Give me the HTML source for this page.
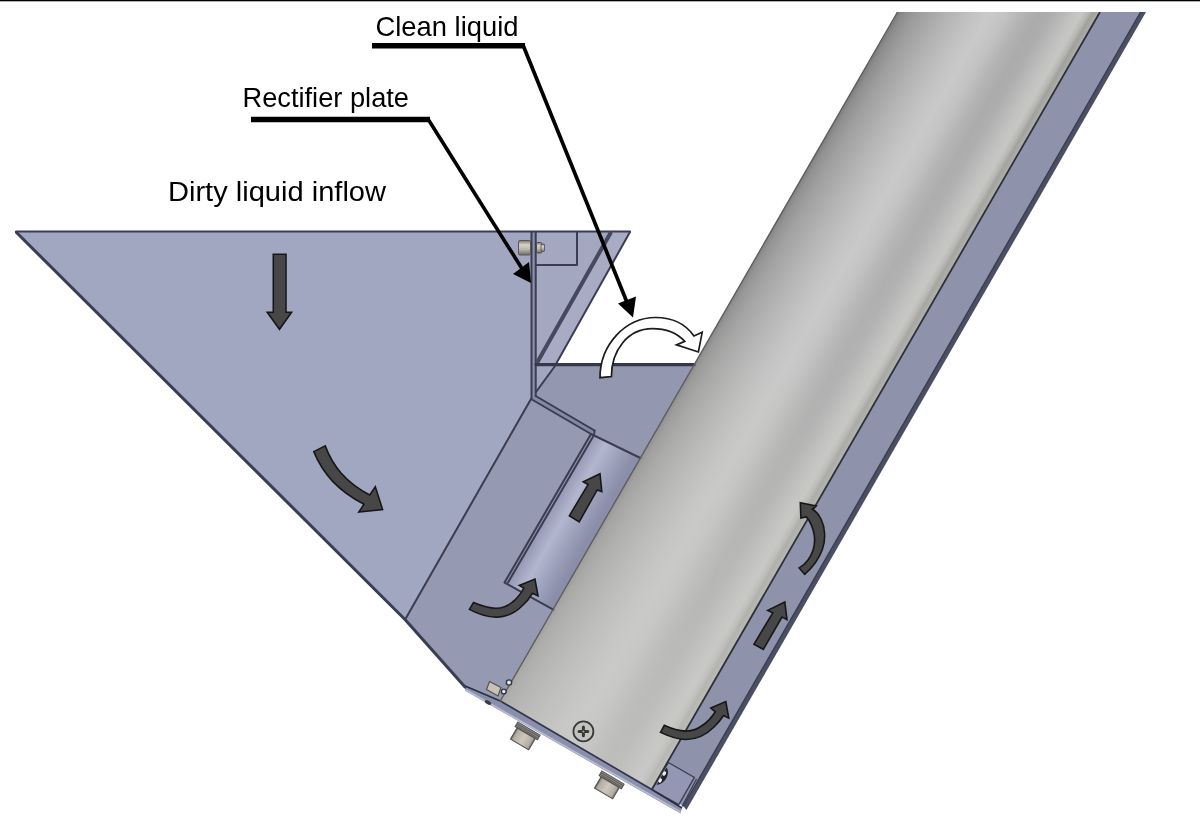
<!DOCTYPE html>
<html><head><meta charset="utf-8">
<style>
html,body{margin:0;padding:0;background:#fff;}
body{width:1200px;height:822px;overflow:hidden;font-family:"Liberation Sans",sans-serif;}
svg{display:block;}
text{font-family:"Liberation Sans",sans-serif;fill:#000;}
</style></head><body>
<svg width="1200" height="822" viewBox="0 0 1200 822">
<defs>
<linearGradient id="cyl" gradientUnits="userSpaceOnUse" x1="897.5" y1="12" x2="1049.5" y2="99.6">
<stop offset="0" stop-color="#787878"/>
<stop offset="0.03" stop-color="#8b8b8b"/>
<stop offset="0.10" stop-color="#9c9c9c"/>
<stop offset="0.25" stop-color="#b3b3b3"/>
<stop offset="0.38" stop-color="#c3c3c3"/>
<stop offset="0.46" stop-color="#c9c9c9"/>
<stop offset="0.54" stop-color="#c3c3c3"/>
<stop offset="0.63" stop-color="#b3b3b3"/>
<stop offset="0.70" stop-color="#ababab"/>
<stop offset="0.76" stop-color="#adadad"/>
<stop offset="0.82" stop-color="#b8b8b8"/>
<stop offset="0.88" stop-color="#c3c3c2"/>
<stop offset="0.915" stop-color="#c6c6c4"/>
<stop offset="0.945" stop-color="#b6b7b2"/>
<stop offset="0.965" stop-color="#a0a19c"/>
<stop offset="0.985" stop-color="#a8a9a4"/>
<stop offset="1" stop-color="#b0b0ac"/>
</linearGradient>
<linearGradient id="cyl2" gradientUnits="userSpaceOnUse" x1="998" y1="12" x2="576" y2="745">
<stop offset="0" stop-color="#cacac8" stop-opacity="0"/>
<stop offset="0.15" stop-color="#cacac8" stop-opacity="0.05"/>
<stop offset="0.45" stop-color="#cacac8" stop-opacity="0.18"/>
<stop offset="1" stop-color="#cacac8" stop-opacity="0.58"/>
</linearGradient>
<linearGradient id="chan" gradientUnits="userSpaceOnUse" x1="591" y1="434" x2="634" y2="458.5">
<stop offset="0" stop-color="#8e92ac"/>
<stop offset="0.12" stop-color="#9ca0ba"/>
<stop offset="0.36" stop-color="#b2b6ce"/>
<stop offset="0.72" stop-color="#9a9eb8"/>
<stop offset="1" stop-color="#8a8ea8"/>
</linearGradient>
<linearGradient id="bolt" x1="0" y1="0" x2="1" y2="0">
<stop offset="0" stop-color="#7f7b75"/>
<stop offset="0.12" stop-color="#b3aea5"/>
<stop offset="0.5" stop-color="#cdc6bc"/>
<stop offset="0.88" stop-color="#b3aea5"/>
<stop offset="1" stop-color="#7f7b75"/>
</linearGradient>
<linearGradient id="boltv" x1="0" y1="0" x2="0" y2="1">
<stop offset="0" stop-color="#7a7771"/>
<stop offset="0.3" stop-color="#d6d2ca"/>
<stop offset="0.6" stop-color="#bcb8af"/>
<stop offset="1" stop-color="#6f6c66"/>
</linearGradient>
<filter id="soft" x="-2%" y="-2%" width="104%" height="104%"><feGaussianBlur stdDeviation="0.65"/></filter>
<clipPath id="clipimg"><rect x="0" y="12" width="1200" height="810"/></clipPath>
</defs>
<rect width="1200" height="822" fill="#fff"/>
<rect x="0" y="0" width="1200" height="1.3" fill="#000"/>

<g clip-path="url(#clipimg)"><g filter="url(#soft)">
<polygon points="16,231 531,231 531,399 405.5,619" fill="#a2a7c1"/>
<polygon points="531,399 591,434 504.5,582.5 554.3,609 501.3,701 465,687 405.5,619" fill="#9599b1"/>
<polygon points="536,231 630,231 556,364 536,364" fill="#a3a7c0"/>
<polygon points="612,231 630,231 556,364 538,364" fill="#a8abc3"/>
<rect x="531" y="231" width="5" height="168" fill="#8d91ad"/>
<polygon points="536,366 693.4,366 640.4,458 591,434 534,401 536,392" fill="#9397af"/>
<polygon points="536,366 555,366 536,392" fill="#a2a7c1"/>
<polygon points="531,399 591,434 594.5,430.5 535.7,396" fill="#8388a3"/>
<polygon points="591,434 640.4,458 553.3,609 504.5,582.5" fill="url(#chan)"/>
<polygon points="1100,12 1140,12 683.3,806 651.8,789.5" fill="#8e92ab"/>
<polygon points="1140,12 1146,12 686.4,810 683.3,806" fill="#4c4f62"/>
<polygon points="464,685 500.3,701 651.8,789.5 682,808 680.5,813.5 465.5,691" fill="#8b8fac"/>
<polyline points="466,690 680.5,812" fill="none" stroke="#b9bdd3" stroke-width="1.6"/>
<polygon points="668.4,762.5 694.4,777.4 678.8,804.5 651.8,789.5" fill="#9397b3" stroke="#3a3d52" stroke-width="1.3"/>
<polyline points="696.5,779 682,806.5" fill="none" stroke="#3a3d52" stroke-width="1.2"/>
<polygon points="897.5,12 1100,12 651.8,789.5 500.3,701" fill="url(#cyl)"/>
<polygon points="897.5,12 1100,12 651.8,789.5 500.3,701" fill="url(#cyl2)"/>
<line x1="1100" y1="12" x2="651.8" y2="789.5" stroke="#2e3038" stroke-width="1.8"/>
<line x1="500.3" y1="701" x2="651.8" y2="789.5" stroke="#33364a" stroke-width="1.7"/>
<polyline points="464,685.5 500.3,701" fill="none" stroke="#2c2e3c" stroke-width="1.6"/>
<polyline points="651.8,789.5 682,808" fill="none" stroke="#2c2e3c" stroke-width="1.6"/>
<g fill="none" stroke="#3a3d52" stroke-width="2" stroke-linejoin="round" stroke-linecap="round">
<polyline points="16,231.5 630,231.5" stroke-width="2.2"/>
<polyline points="16.5,232.5 405,619.5 465,687" stroke-width="3"/>
<line x1="531" y1="399" x2="406" y2="618"/>
<line x1="531.5" y1="232" x2="531.5" y2="399"/>
<line x1="535.7" y1="232" x2="535.7" y2="396"/>
<polyline points="531,399 591,434 640.4,458"/>
<polyline points="535.7,396 594.5,430.5"/>
<polyline points="591,434 504.5,582.5 553.3,609.5"/>
<polyline points="594.5,430.5 594,435 508,582.5"/>
<polyline points="630,232 556,364"/>
<polyline points="610.5,233 537.5,362" stroke-width="4" stroke="#454860"/>
<polyline points="536,364.6 694,364.6" stroke-width="3.2" stroke="#34374a"/>
<polyline points="555,366 536,392"/>
<polyline points="536,265 577,265 577,232"/>
<line x1="897.5" y1="12" x2="500.3" y2="701" stroke="#5e5e60" stroke-width="1.4"/>
<line x1="1140.6" y1="12" x2="683.3" y2="806" stroke-width="1.4"/>
</g>
<g transform="translate(529,728.5) rotate(30.5)">
<rect x="-13" y="0" width="26" height="5.5" fill="#8b8882" stroke="#55534f" stroke-width="0.9"/>
<line x1="-13" y1="1.9" x2="13" y2="1.9" stroke="#5a5854" stroke-width="0.9"/>
<line x1="-13" y1="3.8" x2="13" y2="3.8" stroke="#5a5854" stroke-width="0.9"/>
<rect x="-10.5" y="5.5" width="21" height="13" fill="url(#bolt)" stroke="#55534f" stroke-width="1.2"/>
</g>
<g transform="translate(613,777.5) rotate(30.5)">
<rect x="-13" y="0" width="26" height="5.5" fill="#8b8882" stroke="#55534f" stroke-width="0.9"/>
<line x1="-13" y1="1.9" x2="13" y2="1.9" stroke="#5a5854" stroke-width="0.9"/>
<line x1="-13" y1="3.8" x2="13" y2="3.8" stroke="#5a5854" stroke-width="0.9"/>
<rect x="-10.5" y="5.5" width="21" height="13" fill="url(#bolt)" stroke="#55534f" stroke-width="1.2"/>
</g>
<g>
<rect x="518.5" y="240.5" width="12" height="14.5" rx="1.5" fill="url(#boltv)" stroke="#5a5853" stroke-width="1"/>
<rect x="536.5" y="242.5" width="5" height="10.5" rx="1" fill="url(#boltv)" stroke="#4a4a50" stroke-width="1"/>
<rect x="541" y="244" width="3.5" height="7.5" rx="1" fill="url(#boltv)" stroke="#4a4a50" stroke-width="0.8"/>
<polygon points="489.5,681.5 501,687.5 498,696 486.5,689.5" fill="#c6c2b7" stroke="#55534e" stroke-width="1.2"/>
<circle cx="509" cy="682.5" r="2.6" fill="#e8e8e8" stroke="#33343c" stroke-width="1.4"/>
<circle cx="503.8" cy="691.5" r="2.4" fill="#e8e8e8" stroke="#33343c" stroke-width="1.4"/>
<ellipse cx="488" cy="702.5" rx="3.5" ry="1.8" fill="#3a3b44" transform="rotate(30 488 702.5)"/>
<path d="M656.5,785 L666.5,767.5 Q669.5,771 666.5,778 Q663,784 656.5,785 Z" fill="#22232a"/>
<ellipse cx="664.3" cy="773.5" rx="1.6" ry="2.4" fill="#f2f2f2" transform="rotate(30 664.3 773.5)"/>
<ellipse cx="660.2" cy="780.5" rx="1.6" ry="2.2" fill="#f2f2f2" transform="rotate(30 660.2 780.5)"/>
<circle cx="583.4" cy="731.4" r="10" fill="#c2c2c0" stroke="#3a3a38" stroke-width="1.8"/>
<path d="M579,731.4h8.8M583.4,727v8.8" stroke="#38382f" stroke-width="3" stroke-linecap="round"/>
<circle cx="583.4" cy="731.4" r="1" fill="#aaa"/>
</g>
<g fill="#474747" stroke="#181818" stroke-width="1.6" stroke-linejoin="miter">
<polygon points="273.3,254.3 286,254.3 286,312.3 291.6,312.3 279.5,329.3 267.2,312.3 273.3,312.3"/>
<path d="M313.8,451.6 L325.2,445.9 C329,456 334,465 341.2,473.3 C349,482 359,489.5 369.7,495 L375.3,486.7 L382.6,509.5 L358.8,512.1 L364,504.3 C352,498 341,490 332.9,481.6 C324,472 318,462 313.8,451.6 Z"/>
<path d="M469.4,609.4 C477,613.5 487,617.1 496,617.1 C507,617.1 516,612 522,606 C526.5,602 530,597.5 532.4,593.3 L538,595.9 L535,579 L519.3,585.4 L523.8,588 C521,593.5 517,598.5 512.5,602 C507,606.5 501,608.3 496,608.3 C488,608.3 480.5,605.5 473.5,602.6 Z"/>
<polygon points="569.4,515.7 579.2,521.9 597.2,489.9 601.8,491.6 600,473.7 583.2,481.8 588,484.6"/>
<path d="M660.5,732.4 C668,736 677,739.5 686,739.5 C698,739.5 708,733 714,727 C718,723 721,719.5 723.5,715.5 L728.8,718.1 L725.8,701.6 L710.8,708 L715.3,711.8 C712,717 707.5,722 703,725 C697,729.5 691,731.2 686,731.1 C678,731 671,728.5 664.3,725.3 Z"/>
<polygon points="754,644.2 763.3,649.3 782,617 787,619.6 784.8,602 767.7,610.4 772.8,612.8"/>
<path d="M804.7,574.4 C812,568 819,559 822.5,549 C826,539 825,527 821,519 C818.5,514 815.5,511 812.4,509.2 L816.2,506 L800.3,502.7 L800.9,518 L806.4,516.9 C810,521 813,528 814.2,535 C815.5,544 813,553 808,560 C805.5,563.5 802.5,566 799.2,567.9 Z"/>
</g>
<path d="M600,377.7 C600,345 625,317.5 655.7,317.5 C675,317.5 687,326 694,336 L702.2,332.3 L698.4,352 L676.5,344.9 L684.7,341.4 C677,333 667,328.7 652.4,328.7 C628,328.7 611.4,350 611.4,376.6 Z" fill="#fff" stroke="#1a1a1a" stroke-width="1.7" stroke-linejoin="miter"/>
</g></g>
<g stroke="#000" fill="#000">
<line x1="372" y1="45.7" x2="525" y2="45.7" stroke-width="5.5"/>
<line x1="523" y1="45" x2="628.5" y2="306" stroke-width="3.7"/>
<polygon points="633,317.5 618,303.5 636,296.5" stroke="none"/>
<line x1="251" y1="119.5" x2="430" y2="119.5" stroke-width="5.5"/>
<line x1="428" y1="119" x2="526" y2="275" stroke-width="3.6"/>
<polygon points="531,283 513,274 529,262" stroke="none"/>
</g>
<g opacity="0.998">
<text x="375.5" y="35.7" font-size="27.3" textLength="143" lengthAdjust="spacingAndGlyphs">Clean liquid</text>
<text x="242.5" y="107.3" font-size="27.3" textLength="166.5" lengthAdjust="spacingAndGlyphs">Rectifier plate</text>
<text x="168" y="201" font-size="27.3" textLength="218" lengthAdjust="spacingAndGlyphs">Dirty liquid inflow</text>
</g>
</svg>
</body></html>
